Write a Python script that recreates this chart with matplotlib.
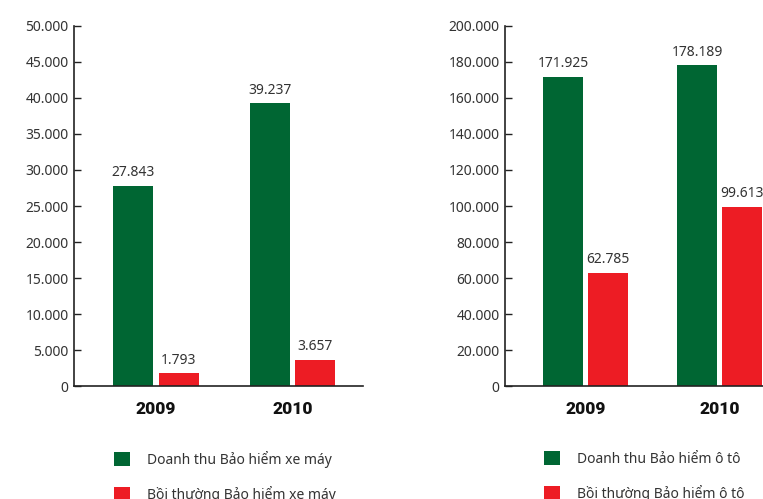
import matplotlib.pyplot as plt
from matplotlib.ticker import FuncFormatter

plt.rcParams['font.family'] = ['Noto Sans', 'DejaVu Sans']

# Data
years = ['2009', '2010']
moto_revenue = [27843, 39237]
moto_claims = [1793, 3657]
car_revenue = [171925, 178189]
car_claims = [62785, 99613]

moto_labels = ['Doanh thu Bảo hiểm xe máy', 'Bồi thường Bảo hiểm xe máy']
car_labels = ['Doanh thu Bảo hiểm ô tô', 'Bồi thường Bảo hiểm ô tô']

GREEN = '#006633'
RED = '#ED1C24'
TEXT = '#333333'
W, H = 763, 499


def dot_thousands(v, pos=None):
    return f'{int(round(v)):,}'.replace(',', '.')


def draw_panel(ax, revenue, claims, ymax, ystep, xlim, labels, leg_x):
    x = range(len(years))
    off = 0.168
    bw = 0.293
    b1 = ax.bar([i - off for i in x], revenue, width=bw, color=GREEN, label=labels[0])
    b2 = ax.bar([i + off for i in x], claims, width=bw, color=RED, label=labels[1])
    for bars in (b1, b2):
        for rect in bars:
            h = rect.get_height()
            ax.annotate(dot_thousands(h), (rect.get_x() + rect.get_width() / 2, h),
                        xytext=(0, 4), textcoords='offset points',
                        ha='center', va='bottom', fontsize=10, color=TEXT,
                        annotation_clip=False)
    ax.set_ylim(0, ymax)
    ax.set_yticks(range(0, ymax + 1, ystep))
    ax.yaxis.set_major_formatter(FuncFormatter(dot_thousands))
    ax.set_xlim(*xlim)
    ax.set_xticks(list(x))
    ax.set_xticklabels(years, fontsize=12.5, fontweight='heavy', color='#111111',
                       family=['Roboto', 'DejaVu Sans'])
    for s in ('top', 'right'):
        ax.spines[s].set_visible(False)
    for s in ('left', 'bottom'):
        ax.spines[s].set_color('#222222')
        ax.spines[s].set_linewidth(1.2)
    ax.tick_params(axis='y', direction='in', length=5, width=1, color='#222222',
                   labelsize=10, labelcolor=TEXT, pad=4)
    ax.tick_params(axis='x', length=0, pad=11)
    ax.legend(loc='upper left', bbox_to_anchor=(leg_x / W, 1 - 451 / H),
              bbox_transform=ax.figure.transFigure, frameon=False,
              fontsize=10, handlelength=1.15, handleheight=1.15,
              handletextpad=1.2, labelspacing=1.3, borderaxespad=0,
              borderpad=0, labelcolor=TEXT)


fig = plt.figure(figsize=(W / 100, H / 100), dpi=100)

ax1 = fig.add_axes([74 / W, (H - 386) / H, (363 - 74) / W, 360 / H])
draw_panel(ax1, moto_revenue, moto_claims, 50000, 5000,
           ((74 - 156) / 136.5, (363 - 156) / 136.5), moto_labels, 114)

ax2 = fig.add_axes([505 / W, (H - 386) / H, (W - 505) / W, 360 / H])
draw_panel(ax2, car_revenue, car_claims, 200000, 20000,
           ((505 - 585.5) / 134, (W - 585.5) / 134), car_labels, 544)

fig.savefig('out.png', dpi=100)
